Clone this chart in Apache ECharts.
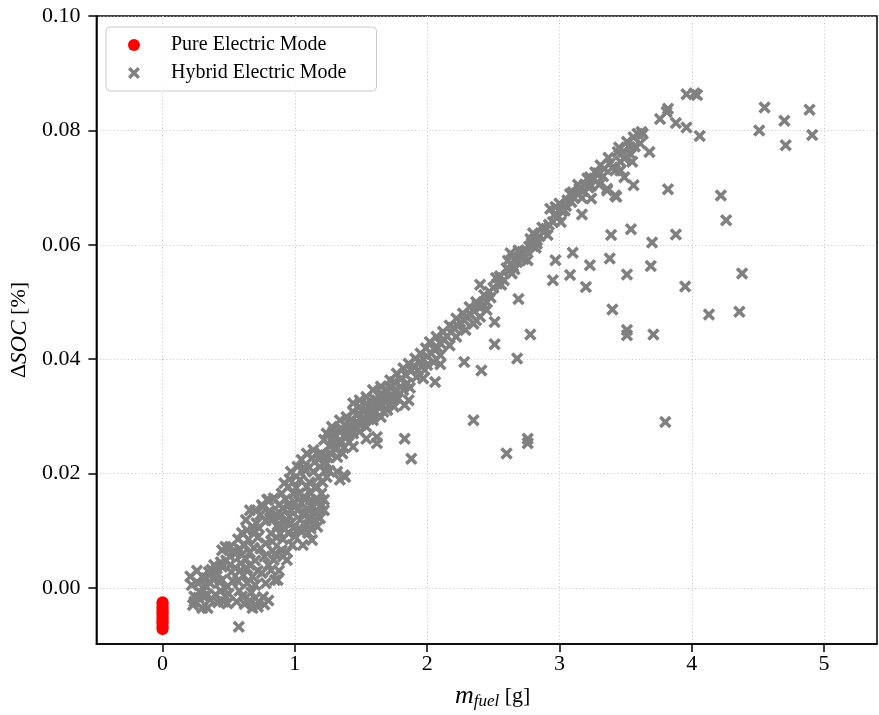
<!DOCTYPE html>
<html>
<head>
<meta charset="utf-8">
<title>Fuel mass vs. SOC change</title>
<script src="https://cdn.jsdelivr.net/npm/echarts@6/dist/echarts.min.js"></script>
<style>
  html, body { margin: 0; padding: 0; background: #ffffff; }
  #chart { width: 879px; height: 715px; }
</style>
</head>
<body>
<div id="chart"></div>
<script>
// Tick positions of both axes
const xTicks = [0, 1, 2, 3, 4, 5];
const yTicks = [0, 0.02, 0.04, 0.06, 0.08, 0.10];

// Pure electric mode: no fuel burned, small SOC change
const pureFuel = [0, 0, 0, 0, 0, 0, 0, 0, 0, 0, 0, 0, 0, 0, 0, 0];
const pureDSOC = [-0.0025, -0.0027, -0.0032, -0.0035, -0.0038, -0.0041, -0.0044, -0.0046,
                  -0.0051, -0.0053, -0.0057, -0.0060, -0.0062, -0.0066, -0.0069, -0.0072];

// Hybrid electric mode, [fuel mass g, delta SOC]
const hybridLow = [
  [0.21,0.0020],[0.22,0.0005],[0.24,-0.0015],[0.24,-0.0024],[0.23,-0.0030],[0.27,-0.0017],
  [0.29,-0.0009],[0.30,-0.0035],[0.31,-0.0015],[0.34,-0.0012],[0.34,-0.0035],[0.36,-0.0020],
  [0.40,-0.0012],[0.30,0.0020],[0.33,0.0017],[0.35,0.0028],[0.27,0.0008],[0.41,0.0034],
  [0.41,0.0026],[0.38,0.0015],[0.45,0.0014],[0.49,0.0002],[0.475,-0.0015],[0.42,-0.0025],
  [0.46,-0.0024],[0.49,-0.0027],[0.56,-0.0024],[0.45,0.0066],[0.51,0.0072],[0.475,0.0072],
  [0.54,0.0066],[0.51,0.0055],[0.44,0.0045],[0.39,0.0040],[0.45,0.0037],[0.51,0.0040],
  [0.59,0.0031],[0.66,0.0040],[0.60,0.0058],[0.59,0.0043],[0.64,0.0034],[0.60,-0.0015],
  [0.62,-0.0028],[0.66,-0.0022],[0.70,-0.0018],[0.73,-0.0025],[0.76,-0.0016],[0.80,-0.0022],
  [0.77,-0.0029],[0.68,-0.0035],[0.72,-0.0033],[0.576,-0.0068],[0.60,0.0096],[0.68,0.0107],
  [0.63,0.0119],[0.70,0.0136],[0.76,0.0142],[0.80,0.0154],[0.74,0.0069],[0.78,0.0078],
  [0.83,0.0081],[0.64,0.0101],[0.69,0.0101],[0.75,0.0145],[0.75,0.0026],[0.82,0.0031],
  [0.85,0.0014],[0.78,0.0008],[0.68,0.0020],[0.64,0.0008],[0.87,0.0014],[0.84,0.0049],
  [0.94,0.0063],[0.91,0.0055],[0.85,0.0060],[0.90,0.0066],[0.94,0.0049],[0.55,0.0035],
  [0.57,0.0085],[0.66,0.0062],[0.70,0.0048],[0.72,0.0088],[0.66,0.0136],[0.74,0.0128],
  [0.71,0.0113],[0.62,0.0075],[0.57,0.0012],[0.52,0.0028],[0.70,0.0005],[0.82,0.0119],
  [0.87,0.0110],[0.92,0.0104],[0.79,0.0154],[0.84,0.0157],[0.92,0.0183],[0.95,0.0177],
  [0.90,0.0165],[0.84,0.0122],[0.90,0.0128],[0.87,0.0107],[0.88,0.0145],[0.93,0.0155],
  [0.86,0.0088],[0.91,0.0085],[0.82,0.0095],
  [0.26,0.0030],[0.32,0.0005],[0.37,0.0032],[0.43,0.0010],[0.48,0.0048],[0.53,0.0012],
  [0.55,0.0060],[0.58,-0.0005],[0.61,0.0022],[0.63,0.0050],[0.65,0.0085],[0.67,-0.0008],
  [0.69,0.0070],[0.72,0.0030],[0.73,0.0105],[0.77,0.0055],[0.78,0.0118],[0.80,0.0040],
  [0.81,0.0135],[0.83,0.0065],[0.86,0.0128],[0.88,0.0030],[0.89,0.0095],[0.91,0.0140],
  [0.93,0.0115],[0.58,0.0068],[0.50,-0.0010],[0.44,-0.0005],[0.36,0.0008]
];

const hybridMid = [
  [0.97,0.0203],[1.02,0.0212],[1.05,0.0224],[1.09,0.0235],[1.14,0.0241],[1.13,0.0227],
  [0.95,0.0096],[1.00,0.0090],[1.05,0.0098],[1.10,0.0096],[1.13,0.0084],[1.10,0.0122],
  [1.15,0.0119],[1.05,0.0148],[1.12,0.0145],[1.17,0.0151],[1.04,0.0189],[1.09,0.0177],
  [1.07,0.0160],[1.12,0.0154],[1.02,0.0136],[1.09,0.0130],[1.14,0.0142],[1.19,0.0142],
  [1.22,0.0154],[1.14,0.0203],[1.19,0.0212],[1.24,0.0218],[1.18,0.0194],[1.24,0.0194],
  [0.97,0.0136],[1.04,0.0119],[0.97,0.0113],[1.03,0.0104],[1.19,0.0122],[1.22,0.0136],
  [1.17,0.0107],[1.12,0.0104],[1.205,0.0145],[1.12,0.0165],[0.99,0.0165],[0.98,0.0075],
  [1.06,0.0075],[1.01,0.0175],[0.96,0.0125],[1.08,0.0205],[1.16,0.0178],[1.20,0.0165],
  [1.26,0.0205],[1.22,0.0259],[1.24,0.0270],[1.29,0.0273],[1.28,0.0282],[1.34,0.0293],
  [1.39,0.0299],[1.44,0.0308],[1.49,0.0317],[1.54,0.0323],[1.62,0.0328],[1.29,0.0253],
  [1.34,0.0259],[1.39,0.0264],[1.44,0.0270],[1.49,0.0273],[1.54,0.0282],[1.59,0.0293],
  [1.65,0.0299],[1.27,0.0235],[1.32,0.0229],[1.23,0.0232],[1.32,0.0203],[1.37,0.0197],
  [1.34,0.0189],[1.44,0.0247],[1.54,0.0261],[1.62,0.0264],[1.62,0.0253],[1.37,0.0245],
  [1.42,0.0285],[1.47,0.0290],[1.52,0.0298],[1.57,0.0305],[1.30,0.0265],[1.36,0.0277],
  [1.26,0.0248],[1.20,0.0235],[1.18,0.0225],[1.38,0.0194],[1.36,0.0235],[1.41,0.0255],
  [1.50,0.0285],[1.58,0.0310],[1.60,0.0318],[1.67,0.0308],[1.44,0.0323],[1.49,0.0328],
  [1.54,0.0334],[1.59,0.0346],[1.65,0.0352],[1.52,0.0308],[1.58,0.0314],[1.63,0.0320],
  [1.67,0.0334],
  [0.95,0.0145],[0.96,0.0190],[0.99,0.0105],[1.00,0.0150],[1.01,0.0195],[1.03,0.0165],
  [1.06,0.0130],[1.07,0.0210],[1.08,0.0110],[1.11,0.0185],[1.11,0.0135],[1.15,0.0220],
  [1.16,0.0130],[1.21,0.0185],[1.23,0.0205],[1.25,0.0228],[1.28,0.0260],[1.31,0.0242],
  [1.33,0.0275],[1.35,0.0255],[1.38,0.0285],[1.40,0.0272],[1.43,0.0295],[1.46,0.0280],
  [1.48,0.0305],[1.51,0.0292],[1.53,0.0312],[1.56,0.0295],[1.60,0.0330],[1.64,0.0315],
  [1.66,0.0340],[1.69,0.0325]
];

const hybridUpper = [
  [1.70,0.0311],[1.75,0.0317],[1.72,0.0363],[1.77,0.0375],[1.82,0.0384],[1.86,0.0392],
  [1.91,0.0401],[1.95,0.0410],[1.99,0.0419],[2.02,0.0430],[2.07,0.0439],[2.12,0.0448],
  [2.17,0.0459],[2.22,0.0471],[2.27,0.0480],[2.32,0.0491],[2.37,0.0500],[2.43,0.0512],
  [1.77,0.0346],[1.85,0.0358],[1.92,0.0369],[1.98,0.0381],[2.05,0.0395],[2.10,0.0407],
  [2.17,0.0424],[2.22,0.0439],[2.29,0.0451],[2.35,0.0462],[2.40,0.0474],[2.45,0.0486],
  [1.70,0.0345],[1.75,0.0360],[1.80,0.0365],[1.88,0.0380],[1.95,0.0395],[2.00,0.0405],
  [2.05,0.0418],[2.10,0.0428],[2.15,0.0440],[2.20,0.0455],[2.25,0.0465],[2.30,0.0475],
  [2.35,0.0485],[2.40,0.0490],[2.45,0.0500],[2.48,0.0508],[1.68,0.0325],[1.73,0.0338],
  [1.80,0.0352],[2.40,0.0530],[2.50,0.0525],[2.55,0.0545],[2.62,0.0555],[2.68,0.0570],
  [2.75,0.0590],[2.80,0.0598],[2.88,0.0622],[2.95,0.0640],[3.02,0.0658],[3.06,0.0678],
  [3.13,0.0690],[3.19,0.0705],[2.58,0.0538],[2.70,0.0578],[2.83,0.0608],[2.53,0.0532],
  [2.65,0.0562],[2.77,0.0597],[2.90,0.0628],[2.52,0.0542],[2.60,0.0559],[2.66,0.0574],
  [2.72,0.0588],[2.79,0.0603],[2.85,0.0615],[2.92,0.0635],[2.99,0.0650],[3.05,0.0668],
  [3.11,0.0682],[3.18,0.0694],[3.24,0.0703],[2.63,0.0585],[2.80,0.0620],[3.59,0.0794],
  [3.56,0.0788],[3.63,0.0794],[3.62,0.0797],[3.61,0.0777],[3.53,0.0771],[3.48,0.0762],
  [3.44,0.0762],[3.55,0.0745],[3.49,0.0751],[3.46,0.0745],[3.38,0.0742],[3.34,0.0733],
  [3.31,0.0739],[3.27,0.0727],[3.23,0.0718],[3.21,0.0716],[3.15,0.0698],[3.10,0.0692],
  [3.08,0.0689],[3.00,0.0672],[2.97,0.0666],[2.93,0.0663],[3.49,0.0718],[3.46,0.0730],
  [3.42,0.0730],[3.36,0.0698],[3.42,0.0686],
  [1.71,0.0352],[1.74,0.0330],[1.76,0.0345],[1.84,0.0372],[1.90,0.0388],[1.93,0.0380],
  [1.97,0.0400],[2.03,0.0410],[2.08,0.0420],[2.13,0.0434],[2.18,0.0447],[2.23,0.0458],
  [2.28,0.0468],[2.33,0.0478],[2.38,0.0495],[2.43,0.0495],[2.47,0.0518],[2.56,0.0530],
  [2.61,0.0572],[2.64,0.0550],[2.69,0.0590],[2.73,0.0575],[2.78,0.0610],[2.82,0.0595],
  [2.87,0.0630],[2.91,0.0617],[2.96,0.0652],[3.01,0.0640],[3.04,0.0660],[3.09,0.0675],
  [3.14,0.0705],[3.17,0.0682],[3.22,0.0700],[3.26,0.0715],[3.29,0.0725],[3.33,0.0720],
  [3.37,0.0752],[3.40,0.0735],[3.45,0.0770],[3.51,0.0780],[3.54,0.0758],[3.57,0.0772],
  [3.30,0.0705]
];

const hybridScatter = [
  [1.78,0.0331],[1.86,0.0328],[1.83,0.0320],[1.87,0.0350],[1.82,0.0346],[1.97,0.0366],
  [2.06,0.0360],[2.00,0.0390],[2.10,0.0391],[2.28,0.0395],[2.41,0.0380],[2.37,0.0468],
  [2.51,0.0465],[2.51,0.0426],[2.68,0.0401],[2.78,0.0443],[2.69,0.0505],[2.35,0.0293],
  [2.76,0.0261],[2.76,0.0253],[2.60,0.0235],[1.83,0.0261],[1.88,0.0226],[2.55,0.0544],
  [2.66,0.0557],[2.76,0.0573],[2.83,0.0602],[2.97,0.0573],[2.95,0.0538],[3.10,0.0586],
  [3.08,0.0547],[3.23,0.0564],[3.20,0.0526],[3.17,0.0653],[3.24,0.0681],[3.36,0.0695],
  [3.43,0.0684],[3.56,0.0704],[3.39,0.0617],[3.54,0.0627],[3.70,0.0604],[3.88,0.0618],
  [3.38,0.0576],[3.51,0.0548],[3.69,0.0563],[3.95,0.0527],[4.38,0.0550],[3.40,0.0487],
  [4.13,0.0478],[4.36,0.0483],[3.51,0.0451],[3.51,0.0442],[3.71,0.0443],[3.80,0.0290],
  [3.82,0.0697],[4.22,0.0686],[4.26,0.0643],[3.68,0.0762],[3.76,0.0820],[3.82,0.0838],
  [3.81,0.0832],[3.88,0.0813],[3.96,0.0805],[4.06,0.0790],[3.96,0.0863],[4.02,0.0865],
  [4.04,0.0862],[4.55,0.0840],[4.51,0.0800],[4.70,0.0817],[4.71,0.0774],[4.89,0.0836],
  [4.91,0.0792]
];

const hybridPoints = hybridLow.concat(hybridMid, hybridUpper, hybridScatter);
const purePoints = pureFuel.map((x, i) => [x, pureDSOC[i]]);

const serif = '"Liberation Serif", "DejaVu Serif", serif';
// thick "x" marker
const crossPath = 'path://M0,2 L2,0 L5,3 L8,0 L10,2 L7,5 L10,8 L8,10 L5,7 L2,10 L0,8 L3,5 Z';

const gridLine = { show: true, lineStyle: { type: [1, 2.5], color: '#c4c4c4', width: 1 } };

const chart = echarts.init(document.getElementById('chart'), null, { renderer: 'canvas' });

chart.setOption({
  animation: false,
  backgroundColor: '#ffffff',
  grid: {
    left: 96, right: 2, top: 16, bottom: 71,
    show: true, borderColor: '#000000', borderWidth: 1.5, backgroundColor: 'transparent'
  },
  legend: {
    left: 106, top: 27,
    orient: 'vertical',
    itemWidth: 12, itemHeight: 12, itemGap: 8,
    padding: [8, 30, 8, 22],
    backgroundColor: 'rgba(255,255,255,0.85)',
    borderColor: '#cccccc', borderWidth: 1, borderRadius: 4,
    textStyle: { fontFamily: serif, fontSize: 20, color: '#000000', padding: [0, 0, 0, 26] },
    data: [
      { name: 'Pure Electric Mode', icon: 'circle' },
      { name: 'Hybrid Electric Mode', icon: crossPath }
    ]
  },
  xAxis: {
    type: 'value', min: -0.5, max: 5.4,
    name: '{m|m}{s|fuel}{u| [g]}',
    nameLocation: 'middle', nameGap: 38,
    nameTextStyle: {
      padding: [0, 0, 0, 12],
      rich: {
        m: { fontFamily: serif, fontStyle: 'italic', fontSize: 26, lineHeight: 28, color: '#000' },
        s: { fontFamily: serif, fontStyle: 'italic', fontSize: 17, lineHeight: 16, verticalAlign: 'bottom', color: '#000' },
        u: { fontFamily: serif, fontSize: 22, lineHeight: 28, color: '#000' }
      }
    },
    axisLine: { show: true, onZero: false, lineStyle: { color: '#000000', width: 1.5 } },
    axisTick: { show: true, length: 8, lineStyle: { color: '#000000', width: 1.5 }, customValues: xTicks },
    axisLabel: { customValues: xTicks, fontFamily: serif, fontSize: 22, color: '#000000', margin: 9,
                 formatter: v => String(Math.round(v)) },
    splitLine: gridLine
  },
  yAxis: {
    type: 'value', min: -0.0098, max: 0.10,
    name: '{d|Δ}{i|SOC}{u| [%]}',
    nameLocation: 'middle', nameGap: 58, nameRotate: 90,
    nameTextStyle: {
      rich: {
        d: { fontFamily: serif, fontSize: 22, color: '#000' },
        i: { fontFamily: serif, fontStyle: 'italic', fontSize: 23, color: '#000' },
        u: { fontFamily: serif, fontSize: 22, color: '#000' }
      }
    },
    axisLine: { show: true, onZero: false, lineStyle: { color: '#000000', width: 1.5 } },
    axisTick: { show: true, length: 8, lineStyle: { color: '#000000', width: 1.5 }, customValues: yTicks },
    axisLabel: { customValues: yTicks, fontFamily: serif, fontSize: 22, color: '#000000', margin: 16,
                 formatter: v => v.toFixed(2) },
    splitLine: gridLine
  },
  series: [
    {
      name: 'Pure Electric Mode', type: 'scatter',
      data: purePoints,
      symbol: 'circle', symbolSize: 12,
      itemStyle: { color: '#ff0000', opacity: 1 },
      emphasis: { disabled: true },
      z: 3
    },
    {
      name: 'Hybrid Electric Mode', type: 'scatter',
      data: hybridPoints,
      symbol: crossPath, symbolSize: 12.5,
      itemStyle: { color: '#808080', opacity: 1 },
      emphasis: { disabled: true },
      z: 2
    }
  ]
});
</script>
</body>
</html>
